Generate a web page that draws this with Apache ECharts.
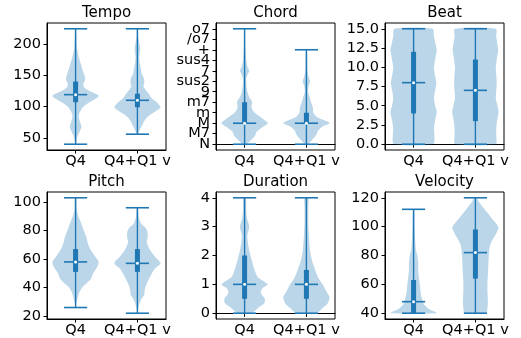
<!DOCTYPE html>
<html>
<head>
<meta charset="utf-8">
<script src="https://cdn.jsdelivr.net/npm/echarts@6/dist/echarts.min.js"></script>
<style>
html, body { margin: 0; padding: 0; background: #fff; }
#main { width: 521px; height: 338px; }
</style>
</head>
<body>
<div id="main"></div>
<script>
var titles = ['Tempo', 'Chord', 'Beat', 'Pitch', 'Duration', 'Velocity'];
var groups = ['Q4', 'Q4+Q1 v'];
var groupPos = [1, 2];

// y tick values per panel
var tempoTicks = [50, 100, 150, 200];
var chordTicks = [0, 1, 2, 3, 4, 5, 6, 7, 8, 9, 10, 11];
var chordLabels = ['N', 'M7', 'M', 'm', 'm7', '9', 'sus2', '7', 'sus4', '+', '/o7', 'o7'];
var beatTicks = [0, 2.5, 5, 7.5, 10, 12.5, 15];
var pitchTicks = [20, 40, 60, 80, 100];
var durationTicks = [0, 1, 2, 3, 4];
var velocityTicks = [40, 60, 80, 100, 120];

// [min, q1, median, q3, max] for Q4 and Q4+Q1
var tempoStats = [[40, 107, 119, 140, 224], [56, 99, 110, 120.5, 224]];
var chordStats = [[0, 2, 2, 4, 11], [0, 2, 2, 3, 9]];
var beatStats = [[0, 4, 8, 12, 15], [0, 3, 7, 11, 15]];
var pitchStats = [[26, 51, 58, 67, 103], [22, 51, 57, 67, 96]];
var durationStats = [[0, 0.5, 1, 2, 4], [0, 0.5, 1, 1.5, 4]];
var velocityStats = [[40, 40, 48, 63, 112], [40, 64, 82, 98, 120]];

// violin outlines: [value, relative half width]
var tempoQ4 = [[40, 0], [44, 0.03], [50, 0.06], [56, 0.12], [62, 0.2], [67, 0.25], [72, 0.23], [78, 0.17], [84, 0.13], [90, 0.17], [97, 0.27], [102, 0.4], [107, 0.6], [112, 0.85], [117, 1.0], [120, 0.9], [125, 0.6], [130, 0.38], [136, 0.33], [142, 0.41], [148, 0.4], [155, 0.33], [165, 0.25], [175, 0.17], [185, 0.1], [195, 0.06], [210, 0.04], [224, 0.02]];
var tempoQ4Q1 = [[56, 0], [60, 0.07], [64, 0.12], [70, 0.2], [76, 0.28], [82, 0.4], [88, 0.6], [94, 0.85], [99, 1.0], [103, 0.93], [108, 0.8], [114, 0.6], [120, 0.5], [127, 0.35], [132, 0.26], [138, 0.3], [145, 0.28], [153, 0.18], [160, 0.15], [170, 0.1], [180, 0.08], [190, 0.12], [200, 0.09], [210, 0.04], [224, 0.02]];
var chordQ4 = [[0, 0.08], [0.4, 0.28], [0.8, 0.45], [1.2, 0.52], [1.6, 0.75], [2, 1.0], [2.4, 0.8], [2.8, 0.55], [3.2, 0.36], [3.6, 0.3], [4, 0.33], [4.5, 0.2], [5, 0.12], [5.6, 0.08], [6.2, 0.07], [6.6, 0.12], [7, 0.2], [7.4, 0.12], [8, 0.07], [9, 0.04], [10, 0.03], [11, 0.02]];
var chordQ4Q1 = [[0, 0.07], [0.3, 0.2], [0.6, 0.32], [1, 0.45], [1.3, 0.5], [1.7, 0.7], [2, 1.0], [2.3, 0.75], [2.6, 0.45], [3, 0.3], [3.5, 0.28], [4, 0.2], [4.5, 0.14], [5, 0.07], [5.6, 0.1], [6, 0.16], [6.4, 0.1], [7, 0.05], [8, 0.04], [9, 0.02]];
var beatQ4 = [[0, 0.85], [1, 0.9], [2, 0.88], [3, 0.92], [4.2, 1.0], [5, 0.93], [6, 0.88], [7, 0.93], [8, 0.98], [9, 0.92], [10, 0.88], [11, 0.93], [12.2, 1.0], [13, 0.95], [14, 0.88], [15, 0.82]];
var beatQ4Q1 = [[0, 0.88], [1, 0.9], [2, 0.9], [3, 0.93], [4.2, 1.0], [5, 0.95], [6, 0.88], [7, 0.9], [8, 0.92], [9, 0.9], [10, 0.88], [11, 0.92], [12.2, 0.98], [13, 0.95], [14, 0.9], [15, 0.88]];
var pitchQ4 = [[26, 0], [32, 0.08], [36, 0.15], [40, 0.28], [43, 0.48], [46, 0.66], [50, 0.76], [54, 0.92], [58, 1.0], [62, 0.83], [67, 0.63], [71, 0.53], [76, 0.45], [81, 0.33], [86, 0.22], [90, 0.12], [95, 0.05], [103, 0.03]];
var pitchQ4Q1 = [[22, 0], [27, 0.06], [31, 0.14], [35, 0.29], [39, 0.32], [43, 0.41], [48, 0.56], [53, 0.74], [57, 1.0], [62, 0.74], [67, 0.52], [72, 0.4], [75, 0.44], [79, 0.44], [82, 0.35], [85, 0.15], [90, 0.06], [96, 0.03]];
var durationQ4 = [[0, 0.3], [0.2, 0.6], [0.35, 0.85], [0.5, 0.87], [0.7, 0.7], [0.85, 0.75], [1.0, 1.0], [1.25, 0.57], [1.5, 0.43], [1.8, 0.32], [2.1, 0.22], [2.4, 0.15], [2.7, 0.12], [3, 0.2], [3.3, 0.1], [3.6, 0.07], [4, 0.05]];
var durationQ4Q1 = [[0, 0.43], [0.18, 0.7], [0.35, 0.92], [0.55, 1.0], [0.75, 0.86], [1.0, 0.7], [1.25, 0.5], [1.5, 0.38], [1.8, 0.25], [2.1, 0.17], [2.4, 0.13], [2.8, 0.1], [3.2, 0.08], [3.6, 0.08], [4, 0.08]];
var velocityQ4 = [[40, 1.0], [41, 0.92], [43, 0.65], [46, 0.45], [50, 0.36], [55, 0.3], [60, 0.27], [65, 0.23], [70, 0.2], [75, 0.2], [80, 0.16], [84, 0.1], [90, 0.07], [100, 0.05], [112, 0.03]];
var velocityQ4Q1 = [[40, 0.46], [44, 0.52], [48, 0.54], [55, 0.52], [62, 0.52], [70, 0.55], [78, 0.57], [84, 0.6], [88, 0.65], [92, 0.78], [96, 0.92], [99, 1.0], [101, 0.95], [105, 0.75], [109, 0.55], [113, 0.35], [117, 0.15], [120, 0.05]];

var profiles = [
  [tempoQ4, tempoQ4Q1], [chordQ4, chordQ4Q1], [beatQ4, beatQ4Q1],
  [pitchQ4, pitchQ4Q1], [durationQ4, durationQ4Q1], [velocityQ4, velocityQ4Q1]
];
var stats = [tempoStats, chordStats, beatStats, pitchStats, durationStats, velocityStats];
var ticks = [tempoTicks, chordTicks, beatTicks, pitchTicks, durationTicks, velocityTicks];

var blue = '#1f77b4';
var font = 'DejaVu Sans';
var fs = 14.5;
var halfW = 0.375;   // violin widths 0.75
var capW = 0.1875;
var lefts = [47, 216, 385], tops = [23, 192];
var gw = 119, gh = 127;

var chart = echarts.init(document.getElementById('main'));

function yFormatter(k) {
  if (k === 1) return function (v) { return chordLabels[Math.round(v)]; };
  if (k === 2) return function (v) { return v.toFixed(1); };
  return function (v) { return String(v); };
}

function makeRender(k) {
  return function (params, api) {
    var i = params.dataIndex;
    var pos = api.value(0);
    var prof = profiles[k][i];
    var st = stats[k][i];
    var left = prof.map(function (p) { return api.coord([pos - p[1] * halfW, p[0]]); });
    var right = prof.slice().reverse().map(function (p) { return api.coord([pos + p[1] * halfW, p[0]]); });
    var ls = { stroke: blue, lineWidth: 1.4 };
    function hline(v) {
      var a = api.coord([pos - capW, v]), b = api.coord([pos + capW, v]);
      return { type: 'line', shape: { x1: a[0], y1: a[1], x2: b[0], y2: b[1] }, style: { stroke: blue, lineWidth: 1.6 } };
    }
    var lo = api.coord([pos, st[0]]), hi = api.coord([pos, st[4]]);
    var q1 = api.coord([pos, st[1]]), q3 = api.coord([pos, st[3]]);
    var md = api.coord([pos, st[2]]);
    return {
      type: 'group',
      children: [
        { type: 'polygon', shape: { points: left.concat(right), smooth: 0.25 }, style: { fill: 'rgba(31,119,180,0.3)' } },
        { type: 'line', shape: { x1: lo[0], y1: lo[1], x2: hi[0], y2: hi[1] }, style: ls },
        hline(st[0]), hline(st[4]), hline(st[2]),
        { type: 'line', shape: { x1: q1[0], y1: q1[1], x2: q3[0], y2: q3[1] }, style: { stroke: blue, lineWidth: 5 } },
        { type: 'circle', shape: { cx: md[0], cy: md[1], r: 1.5 }, style: { fill: '#fff' } }
      ]
    };
  };
}

function makeYAxis(k, lo, hi, values) {
  return {
    gridIndex: k, type: 'value', min: lo, max: hi, position: 'left',
    splitLine: { show: false },
    axisLine: { show: true, lineStyle: { color: '#000' } },
    axisTick: { show: true, length: 3.5, lineStyle: { color: '#000' }, customValues: values },
    axisLabel: {
      customValues: values, margin: 6, fontFamily: font, fontSize: fs, color: '#000',
      showMinLabel: true, showMaxLabel: true, hideOverlap: false,
      formatter: yFormatter(k)
    }
  };
}

var grid = [], xAxis = [], yAxis = [], series = [], title = [];
for (var k = 0; k < 6; k++) {
  var col = k % 3, row = Math.floor(k / 3);
  grid.push({ left: lefts[col], top: tops[row], width: gw, height: gh, show: true, borderColor: '#000', borderWidth: 1, containLabel: false });
  var lo = Math.min(stats[k][0][0], stats[k][1][0]);
  var hi = Math.max(stats[k][0][4], stats[k][1][4]);
  var pad = (hi - lo) * 0.05;
  title.push({
    text: titles[k], left: lefts[col] + gw / 2, top: tops[row] - 17, textAlign: 'center', padding: 0,
    textStyle: { fontFamily: font, fontSize: 15, fontWeight: 'normal', color: '#000' }
  });
  xAxis.push({
    gridIndex: k, type: 'value', min: 0.5375, max: 2.4625,
    splitLine: { show: false },
    axisLine: { show: true, lineStyle: { color: '#000' } },
    axisTick: { show: true, length: 3.5, lineStyle: { color: '#000' }, customValues: groupPos },
    axisLabel: {
      customValues: groupPos, margin: 4, fontFamily: font, fontSize: fs, color: '#000',
      showMinLabel: true, showMaxLabel: true, hideOverlap: false,
      formatter: function (v) { return groups[Math.round(v) - 1]; }
    }
  });
  var yIndex = yAxis.length;
  if (k === 1) {
    // crowded chord labels: split over two overlapping axes so none are culled
    yAxis.push(makeYAxis(k, lo - pad, hi + pad, ticks[k].filter(function (v) { return v % 2 === 0; })));
    yAxis.push(makeYAxis(k, lo - pad, hi + pad, ticks[k].filter(function (v) { return v % 2 === 1; })));
  } else {
    yAxis.push(makeYAxis(k, lo - pad, hi + pad, ticks[k]));
  }
  series.push({
    type: 'custom', xAxisIndex: k, yAxisIndex: yIndex,
    renderItem: makeRender(k),
    data: groupPos.map(function (p, i) { return [p, stats[k][i][2]]; }),
    silent: true
  });
}

chart.setOption({
  animation: false,
  title: title,
  grid: grid,
  xAxis: xAxis,
  yAxis: yAxis,
  series: series
});
</script>
</body>
</html>
